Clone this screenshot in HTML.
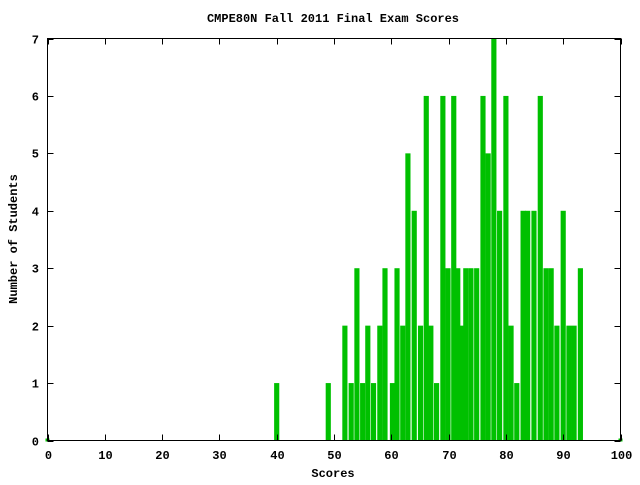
<!DOCTYPE html>
<html><head><meta charset="utf-8"><style>
body{margin:0;background:#fff;}
svg text{font-family:"Liberation Mono",monospace;font-weight:bold;font-size:12px;fill:#000;}
</style></head><body>
<svg id="chart" width="640" height="480" xmlns="http://www.w3.org/2000/svg">
<rect width="640" height="480" fill="#fff"/>
<text x="333" y="22" text-anchor="middle">CMPE80N Fall 2011 Final Exam Scores</text>
<text x="333" y="477" text-anchor="middle">Scores</text>
<text x="0" y="0" text-anchor="middle" transform="translate(17,239) rotate(-90)">Number of Students</text>
<g id="bars"></g>
<g id="axes"></g>
</svg>
<script>
const scores = [0,40,49,51.9,53,54,55,55.9,56.9,58,58.9,60.2,61,62,62.9,64,65.1,66.1,66.9,67.9,69,69.9,70.9,71.6,72.2,73,73.9,74.9,76,76.9,77.9,78.9,80,80.9,81.9,83,83.8,84.9,86,87,87.9,88.9,90,91,91.9,93,100];
const counts = [0,1,1,2,1,3,1,2,1,2,3,1,3,2,5,4,2,6,2,1,6,3,6,3,2,3,3,3,6,5,7,4,6,2,1,4,4,4,6,3,3,2,4,2,2,3,0];
const xTicks = [0,10,20,30,40,50,60,70,80,90,100];
const yTicks = [0,1,2,3,4,5,6,7];
const NS="http://www.w3.org/2000/svg";
const L=47.5,R=620.5,T=38.5,B=440.5;
const xs=v=>L+(R-L)*v/100;
const ys=v=>B-(B-T)*v/7;
const bars=document.getElementById('bars');
scores.forEach((s,i)=>{
  const r=document.createElementNS(NS,'rect');
  const w=(xs(0.9)-xs(0));
  const h=Math.max(ys(0)-ys(counts[i]),0);
  r.setAttribute('x',xs(s)-w/2);
  r.setAttribute('y',ys(counts[i]));
  r.setAttribute('width',w);
  r.setAttribute('height',counts[i]===0?3:h);
  if(counts[i]===0){r.setAttribute('y',ys(0)-2);r.setAttribute('width',4);r.setAttribute('x',xs(s)-2);}
  r.setAttribute('fill','#00c000');
  
  
  bars.appendChild(r);
});
const ax=document.getElementById('axes');
function line(x1,y1,x2,y2){const l=document.createElementNS(NS,'line');l.setAttribute('x1',x1);l.setAttribute('y1',y1);l.setAttribute('x2',x2);l.setAttribute('y2',y2);l.setAttribute('stroke','#000');l.setAttribute('stroke-width','1');ax.appendChild(l);return l;}
function text(x,y,s,anchor){const t=document.createElementNS(NS,'text');t.setAttribute('x',x);t.setAttribute('y',y);t.setAttribute('text-anchor',anchor);t.textContent=s;ax.appendChild(t);return t;}
const frame=document.createElementNS(NS,'rect');
frame.setAttribute('x',L);frame.setAttribute('y',T);frame.setAttribute('width',R-L);frame.setAttribute('height',B-T);
frame.setAttribute('fill','none');frame.setAttribute('stroke','#000');


ax.appendChild(frame);
xTicks.forEach(v=>{
  const x=Math.round(xs(v))+0.5;
  line(x,B,x,B-6);line(x,T,x,T+6);
  const t=text(x,459,String(v),'middle');
  
  
});
yTicks.forEach(v=>{
  const y=Math.round(ys(v))+0.5;
  line(L,y,L+6,y);line(R,y,R-6,y);
  const t=text(39,y+4,String(v),'end');
  
  
});
</script>
</body></html>
